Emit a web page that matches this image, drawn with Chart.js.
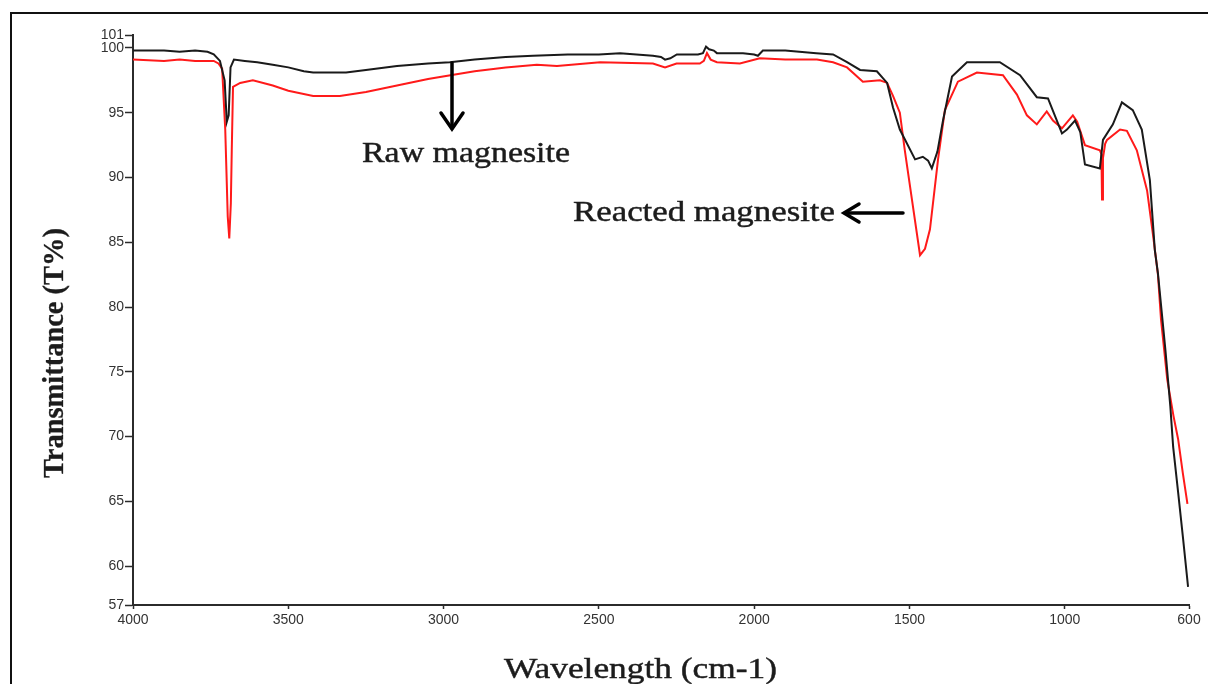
<!DOCTYPE html>
<html>
<head>
<meta charset="utf-8">
<title>FTIR spectra of magnesite</title>
<script src="https://cdn.jsdelivr.net/npm/chart.js@4.4.1/dist/chart.umd.min.js"></script>
<style>
    html, body { margin: 0; padding: 0; background: #fff; overflow: hidden; }
    #wrap { width: 1208px; height: 684px; position: relative; }
</style>
</head>
<body>
<div id="wrap"><canvas id="ftir-chart" width="1208" height="684"></canvas></div>
<script>
// FTIR spectra: raw vs reacted magnesite

// raw magnesite (black trace)
const rawWavenumbers = [
    4000, 3900, 3850, 3800, 3760, 3740, 3720, 3705, 3698, 3692, 3686, 3675,
    3640, 3600, 3550, 3500, 3450, 3420, 3350, 3314, 3250, 3150, 3050, 2980,
    2900, 2800, 2712, 2600, 2500, 2432, 2326, 2300, 2287, 2270, 2249, 2181,
    2165, 2155, 2145, 2130, 2120, 2036, 2000, 1988, 1972, 1900, 1800, 1746,
    1701, 1659, 1605, 1572, 1553, 1531, 1482, 1457, 1440, 1428, 1410, 1392,
    1363, 1315, 1209, 1144, 1090, 1054, 1009, 993, 967, 950, 935, 887,
    877, 845, 816, 781, 752, 726, 710, 700, 676, 660, 651, 635,
    619, 603
];
const rawTransmittance = [
    99.8, 99.8, 99.7, 99.8, 99.7, 99.5, 99.0, 97.5, 94.3, 94.8, 98.5, 99.1,
    99.0, 98.9, 98.7, 98.5, 98.2, 98.1, 98.1, 98.1, 98.3, 98.6, 98.8, 98.9,
    99.1, 99.3, 99.4, 99.5, 99.5, 99.6, 99.4, 99.3, 99.1, 99.2, 99.5, 99.5,
    99.6, 100.1, 99.9, 99.8, 99.6, 99.6, 99.5, 99.4, 99.8, 99.8, 99.6, 99.5,
    98.9, 98.3, 98.2, 97.3, 95.4, 93.7, 91.4, 91.6, 91.3, 90.7, 92.0, 94.4,
    97.8, 98.9, 98.9, 97.9, 96.2, 96.1, 93.4, 93.7, 94.4, 93.5, 91.0, 90.7,
    92.9, 94.1, 95.8, 95.2, 93.7, 89.8, 84.4, 82.6, 76.7, 72.3, 69.2, 65.7,
    62.1, 58.4
];

// reacted magnesite (red trace)
const reactedWavenumbers = [
    4000, 3900, 3850, 3800, 3740, 3725, 3713, 3703, 3695, 3690, 3685, 3682,
    3678, 3655, 3614, 3550, 3500, 3420, 3334, 3250, 3150, 3050, 3002, 2900,
    2800, 2700, 2635, 2496, 2326, 2287, 2250, 2175, 2162, 2152, 2140, 2120,
    2046, 1982, 1900, 1798, 1746, 1701, 1650, 1595, 1572, 1553, 1531, 1515,
    1492, 1466, 1450, 1434, 1408, 1386, 1344, 1283, 1199, 1154, 1122, 1090,
    1058, 1038, 1009, 974, 960, 935, 887, 882, 880, 877, 870, 864,
    822, 800, 768, 735, 716, 700, 690, 670, 650, 635, 620, 605
];
const reactedTransmittance = [
    99.1, 99.0, 99.1, 99.0, 99.0, 98.8, 98.4, 93.7, 87.0, 85.3, 88.0, 92.1,
    97.0, 97.3, 97.5, 97.1, 96.7, 96.3, 96.3, 96.6, 97.1, 97.6, 97.8, 98.2,
    98.5, 98.7, 98.6, 98.9, 98.8, 98.5, 98.8, 98.8, 99.0, 99.6, 99.1, 98.9,
    98.8, 99.2, 99.1, 99.1, 98.9, 98.5, 97.4, 97.5, 97.3, 96.3, 95.0, 92.1,
    88.3, 84.0, 84.5, 86.0, 91.4, 95.2, 97.4, 98.1, 97.9, 96.4, 94.8, 94.1,
    95.1, 94.4, 93.8, 94.8, 94.3, 92.5, 92.1, 91.8, 88.3, 91.5, 92.6, 92.9,
    93.7, 93.6, 92.1, 89.0, 85.6, 82.5, 79.0, 74.4, 71.6, 69.8, 67.2, 64.8
];

const xTicks = [4000, 3500, 3000, 2500, 2000, 1500, 1000, 600];
const yTicks = [57, 60, 65, 70, 75, 80, 85, 90, 95, 100, 101];

const toPoints = (xs, ys) => xs.map((x, i) => ({ x: x, y: ys[i] }));

const AXIS_COLOR = '#2b2b2b';
const SERIF = '"Liberation Serif", "Times New Roman", serif';

// draw text squeezed/stretched to a given width, with a light outline to thicken it
function fitText(ctx, text, x, y, width, font, outline) {
    ctx.save();
    ctx.font = font;
    const w = ctx.measureText(text).width;
    ctx.translate(x, y);
    ctx.scale(width / w, 1);
    ctx.fillText(text, 0, 0);
    if (outline) {
        ctx.lineWidth = outline;
        ctx.strokeStyle = ctx.fillStyle;
        ctx.strokeText(text, 0, 0);
    }
    ctx.restore();
}

function arrowHead(ctx, tipX, tipY, ax, ay, bx, by) {
    ctx.beginPath();
    ctx.moveTo(ax, ay);
    ctx.lineTo(tipX, tipY);
    ctx.lineTo(bx, by);
    ctx.stroke();
}

const decorations = {
    id: 'decorations',
    afterDraw(chart) {
        const ctx = chart.ctx;
        ctx.save();

        // outer frame (top and left edges only)
        ctx.strokeStyle = '#111';
        ctx.lineWidth = 2;
        ctx.beginPath();
        ctx.moveTo(11, 684);
        ctx.lineTo(11, 13);
        ctx.lineTo(1208, 13);
        ctx.stroke();

        ctx.fillStyle = '#1c1c1c';
        ctx.textBaseline = 'alphabetic';
        ctx.textAlign = 'left';

        // axis titles
        fitText(ctx, 'Wavelength (cm-1)', 504, 678, 273, '30px ' + SERIF, 0.45);

        ctx.save();
        ctx.translate(63, 478);
        ctx.rotate(-Math.PI / 2);
        fitText(ctx, 'Transmittance (T%)', 0, 0, 250, 'bold 29px ' + SERIF, 0.3);
        ctx.restore();

        // series labels
        fitText(ctx, 'Raw magnesite', 362, 162, 208, '29px ' + SERIF, 0.45);
        fitText(ctx, 'Reacted magnesite', 573, 221, 262, '29px ' + SERIF, 0.45);

        // arrows
        ctx.strokeStyle = '#000';
        ctx.lineWidth = 3.5;
        ctx.lineCap = 'round';
        ctx.lineJoin = 'miter';
        ctx.beginPath();
        ctx.moveTo(452, 63);
        ctx.lineTo(452, 128);
        ctx.stroke();
        arrowHead(ctx, 452, 129, 441, 113, 463, 113);

        ctx.beginPath();
        ctx.moveTo(903, 213);
        ctx.lineTo(845, 213);
        ctx.stroke();
        arrowHead(ctx, 844, 213, 859, 204, 859, 222);

        ctx.restore();
    }
};

const ctx = document.getElementById('ftir-chart').getContext('2d');

new Chart(ctx, {
    type: 'line',
    data: {
        datasets: [
            {
                label: 'Raw magnesite',
                data: toPoints(rawWavenumbers, rawTransmittance),
                borderColor: '#1a1a1a',
                borderWidth: 2,
                pointRadius: 0,
                tension: 0,
                fill: false,
                order: 1
            },
            {
                label: 'Reacted magnesite',
                data: toPoints(reactedWavenumbers, reactedTransmittance),
                borderColor: '#ff1a1a',
                borderWidth: 2,
                pointRadius: 0,
                tension: 0,
                fill: false,
                order: 2
            }
        ]
    },
    options: {
        responsive: false,
        animation: false,
        layout: { padding: { left: 0, right: 19, top: 35, bottom: 0 } },
        plugins: {
            legend: { display: false },
            tooltip: { enabled: false }
        },
        scales: {
            x: {
                type: 'linear',
                reverse: true,
                min: 600,
                max: 4000,
                afterBuildTicks: (scale) => { scale.ticks = xTicks.map(v => ({ value: v })); },
                afterFit: (scale) => {
                    scale.height = 79;
                    scale.paddingLeft = 0;
                    scale.paddingRight = 0;
                },
                border: { display: true, color: AXIS_COLOR, width: 2 },
                grid: { display: true, drawOnChartArea: false, drawTicks: true, tickLength: 4, color: AXIS_COLOR, tickWidth: 1.5 },
                ticks: {
                    autoSkip: false,
                    maxRotation: 0,
                    padding: 3,
                    color: '#333',
                    font: { family: '"Liberation Sans", Arial, sans-serif', size: 14 },
                    callback: (v) => String(v)
                }
            },
            y: {
                type: 'linear',
                min: 57,
                max: 101,
                afterBuildTicks: (scale) => { scale.ticks = yTicks.map(v => ({ value: v })); },
                afterFit: (scale) => {
                    scale.width = 133;
                    scale.paddingTop = 0;
                    scale.paddingBottom = 0;
                },
                border: { display: true, color: AXIS_COLOR, width: 2 },
                grid: { display: true, drawOnChartArea: false, drawTicks: true, tickLength: 8, color: AXIS_COLOR, tickWidth: 1.5 },
                ticks: {
                    autoSkip: false,
                    padding: 1,
                    color: '#333',
                    font: { family: '"Liberation Sans", Arial, sans-serif', size: 14 },
                    callback: (v) => String(v)
                }
            }
        }
    },
    plugins: [decorations]
});
</script>
</body>
</html>
